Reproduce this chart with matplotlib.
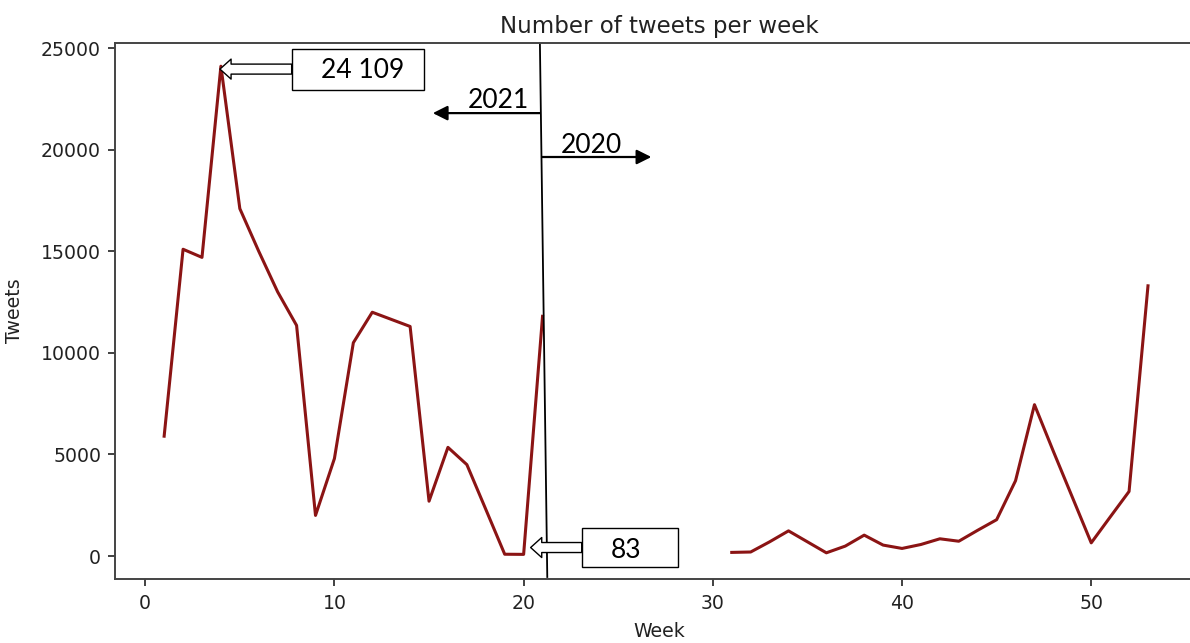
import numpy as np
import matplotlib
matplotlib.use('Agg')
import matplotlib.pyplot as plt
from matplotlib.patches import Rectangle, FancyArrowPatch

# weekly tweet counts
weeks_2021 = list(range(1, 22))
tweets_2021 = [5900, 15100, 14700, 24109, 17100, 15000, 13000, 11350, 2000, 4800,
               10500, 12000, 11650, 11300, 2700, 5350, 4500, 2300, 90, 83, 11800]
weeks_2020 = list(range(31, 54))
tweets_2020 = [180, 200, 700, 1240, 700, 160, 490, 1030, 540, 375, 570, 850,
               730, 1270, 1790, 3710, 7450, 5150, 2900, 650, 1920, 3180, 13300]

peak_label = '24 109'
low_label = '83'
year_left = '2021'
year_right = '2020'

plt.rcParams['font.size'] = 13.6
plt.rcParams['axes.linewidth'] = 1.4
plt.rcParams['xtick.major.width'] = 1.3
plt.rcParams['ytick.major.width'] = 1.3
plt.rcParams['xtick.major.size'] = 5
plt.rcParams['ytick.major.size'] = 5
plt.rcParams['xtick.major.pad'] = 6
plt.rcParams['ytick.major.pad'] = 5

fig = plt.figure(figsize=(11.9, 6.43), dpi=100)
ax = fig.add_axes([0.0966, 0.0995, 0.915, 0.8336])

line_color = '#8b1414'
ax.plot(weeks_2021, tweets_2021, color=line_color, lw=2.2)
ax.plot(weeks_2020, tweets_2020, color=line_color, lw=2.2)

ax.set_title('Number of tweets per week', fontsize=16.5, color='#222222', pad=7)
ax.set_xlabel('Week', color='#222222', labelpad=6)
ax.set_ylabel('Tweets', color='#222222', labelpad=12)
ax.tick_params(colors='#333333', labelcolor='#222222')
for sp in ax.spines.values():
    sp.set_color('#444444')

ax.set_xlim(-1.6, 55.95)
ax.set_ylim(-1130, 25250)

# separator between years (hand drawn, slightly slanted)
ax.plot([20.86, 21.25], [25250, -1030], color='black', lw=1.3)

ann_font = dict(family=['Lato', 'DejaVu Sans'], fontsize=19, color='black')
hollow = 'simple,head_length=0.8,head_width=1.44,tail_width=0.72'

# peak callout
ax.add_patch(Rectangle((7.74, 22930), 6.99, 2020, fc='white', ec='black', lw=1.0, zorder=4))
ax.text(11.5, 23900, peak_label, ha='center', va='center', zorder=5, **ann_font)
ax.add_patch(FancyArrowPatch((7.74, 23966), (3.95, 23966), arrowstyle=hollow,
                             mutation_scale=10, fc='white', ec='black', lw=1.0,
                             shrinkA=0, shrinkB=0, zorder=5))

# low callout
ax.add_patch(Rectangle((23.07, -560), 5.07, 1950, fc='white', ec='black', lw=1.0, zorder=4))
ax.text(25.4, 250, low_label, ha='center', va='center', zorder=5, **ann_font)
ax.add_patch(FancyArrowPatch((23.07, 420), (20.37, 420), arrowstyle=hollow,
                             mutation_scale=10, fc='white', ec='black', lw=1.0,
                             shrinkA=0, shrinkB=0, zorder=5))

# year arrows
ax.add_patch(FancyArrowPatch((20.86, 21800), (15.2, 21800), arrowstyle='-|>',
                             mutation_scale=22, color='black', lw=1.6,
                             shrinkA=0, shrinkB=0))
ax.text(18.64, 22400, year_left, ha='center', va='center', **ann_font)
ax.add_patch(FancyArrowPatch((20.97, 19640), (26.75, 19640), arrowstyle='-|>',
                             mutation_scale=22, color='black', lw=1.6,
                             shrinkA=0, shrinkB=0))
ax.text(23.56, 20200, year_right, ha='center', va='center', **ann_font)

fig.savefig('out.png', dpi=100)
